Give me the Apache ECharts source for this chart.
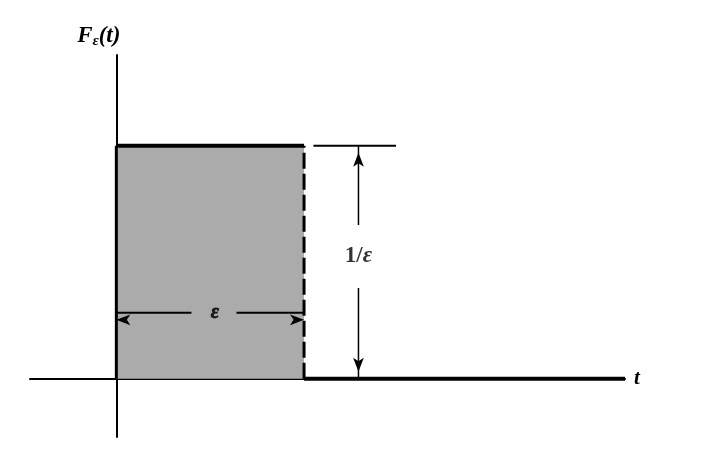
<!DOCTYPE html>
<html>
<head>
<meta charset="utf-8">
<script src="https://cdn.jsdelivr.net/npm/echarts@6/dist/echarts.min.js"></script>
<style>html,body{margin:0;padding:0;background:#fff}#c{width:701px;height:475px}</style>
</head>
<body>
<div id="c"></div>
<script>
// ---- data (units: t in multiples of epsilon, F in multiples of 1/epsilon) ----
const pulseT = [0, 1];          // pulse runs from t = 0 to t = epsilon
const pulseF = [1, 1];          // height 1/epsilon
const tailT = [1, 2.71];        // F = 0 after the pulse
const tailF = [0, 0];
const tRange = [-0.46, 2.71];
const fRange = [-0.25, 1.39];
const heightDimT = 1.29;        // where the 1/epsilon dimension is drawn
const widthDimF = 0.283;        // where the epsilon dimension is drawn
const extT = [1.05, 1.49];      // extension line at top
const labelHeight = '{u|1/}{i|ε}';
const labelWidth = 'ε';

const font = '"Liberation Serif","DejaVu Serif",serif';
const black = '#000';

function pts(xs, ys){ return xs.map((x,i)=>[x, ys[i]]); }

const chart = echarts.init(document.getElementById('c'), null, {renderer:'canvas'});
chart.setOption({
  animation: false,
  backgroundColor: '#fff',
  grid: {left: 30, right: 76, top: 55, bottom: 38},
  xAxis: {
    type: 'value', min: tRange[0], max: tRange[1],
    axisLine: {onZero: true, lineStyle: {color: black, width: 2}},
    axisTick: {show: false}, axisLabel: {show: false}, splitLine: {show: false},
    name: 't', nameLocation: 'end', nameGap: 9,
    nameTextStyle: {fontFamily: font, fontStyle: 'italic', fontWeight: 'bold', fontSize: 21, color: black, verticalAlign: 'middle'}
  },
  yAxis: {
    type: 'value', min: fRange[0], max: fRange[1],
    axisLine: {onZero: true, lineStyle: {color: black, width: 2}},
    axisTick: {show: false}, axisLabel: {show: false}, splitLine: {show: false},
    name: '{b|F}{s|ε}{b|(t)}', nameLocation: 'end', nameGap: 6,
    nameTextStyle: {
      align: 'right', verticalAlign: 'bottom', padding: [0, -4, 0, 0],
      rich: {
        b: {fontFamily: font, fontStyle: 'italic', fontWeight: 'bold', fontSize: 23, color: black, lineHeight: 26},
        s: {fontFamily: font, fontStyle: 'italic', fontWeight: 'bold', fontSize: 15, color: black, lineHeight: 26, verticalAlign: 'bottom', padding: [12, 0, 0, 0]}
      }
    }
  },
  series: [
    { // filled pulse with thick top edge
      type: 'line', data: pts(pulseT, pulseF), symbol: 'none',
      lineStyle: {color: black, width: 4},
      areaStyle: {color: '#ababab', opacity: 1}
    },
    { // left edge of pulse
      type: 'line', data: [[pulseT[0], 0], [pulseT[0], pulseF[0]]], symbol: 'none',
      lineStyle: {color: black, width: 3}
    },
    { // dashed right edge
      type: 'line', data: [[pulseT[1], 0], [pulseT[1], pulseF[1]]], symbol: 'none',
      lineStyle: {color: black, width: 3, type: [16, 5]}
    },
    { // thick zero line after pulse
      type: 'line', data: pts(tailT, tailF), symbol: 'none',
      lineStyle: {color: black, width: 4}
    },
    { // top extension line
      type: 'line', data: [[extT[0], pulseF[0]], [extT[1], pulseF[0]]], symbol: 'none',
      lineStyle: {color: black, width: 2}
    },
    { // height dimension upper part
      type: 'line', symbolSize: [8, 14], symbolKeepAspect: true,
      data: [{value: [heightDimT, 0.66], symbol: 'none'}, {value: [heightDimT, pulseF[0]], symbol: 'arrow', symbolOffset: [0, 7]}],
      lineStyle: {color: black, width: 1.5}, itemStyle: {color: black}
    },
    { // height dimension lower part
      type: 'line', symbolSize: [8, 14], symbolKeepAspect: true,
      data: [{value: [heightDimT, 0.39], symbol: 'none'}, {value: [heightDimT, 0], symbol: 'arrow', symbolRotate: 180, symbolOffset: [0, -7]}],
      lineStyle: {color: black, width: 1.5}, itemStyle: {color: black}
    },
    { // width dimension left part
      type: 'line', symbolSize: [8, 14], symbolKeepAspect: true,
      data: [{value: [0.4, widthDimF], symbol: 'none'}, {value: [pulseT[0], widthDimF], symbol: 'arrow', symbolRotate: 90, symbolOffset: [0, 7]}],
      lineStyle: {color: black, width: 2}, itemStyle: {color: black}
    },
    { // width dimension right part
      type: 'line', symbolSize: [8, 14], symbolKeepAspect: true,
      data: [{value: [0.64, widthDimF], symbol: 'none'}, {value: [pulseT[1], widthDimF], symbol: 'arrow', symbolRotate: -90, symbolOffset: [0, 7]}],
      lineStyle: {color: black, width: 2}, itemStyle: {color: black}
    },
    { // 1/epsilon label
      type: 'scatter', symbol: 'circle', symbolSize: 1, z: 10,
      itemStyle: {color: 'rgba(0,0,0,0)'},
      label: {show: true, position: 'inside', formatter: labelHeight, color: black,
        rich: {
          u: {fontFamily: font, fontWeight: 'bold', fontSize: 23, color: black},
          i: {fontFamily: font, fontStyle: 'italic', fontWeight: 'bold', fontSize: 23, color: black}
        }},
      data: [[heightDimT, 0.525]]
    },
    { // epsilon label
      type: 'scatter', symbol: 'circle', symbolSize: 1, z: 10,
      itemStyle: {color: 'rgba(0,0,0,0)'},
      label: {show: true, position: 'inside', formatter: labelWidth,
        fontFamily: font, fontStyle: 'italic', fontWeight: 'bold', fontSize: 20, color: black,
        textBorderColor: black, textBorderWidth: 0.8},
      data: [[0.525, widthDimF]]
    }
  ]
});
</script>
</body>
</html>
